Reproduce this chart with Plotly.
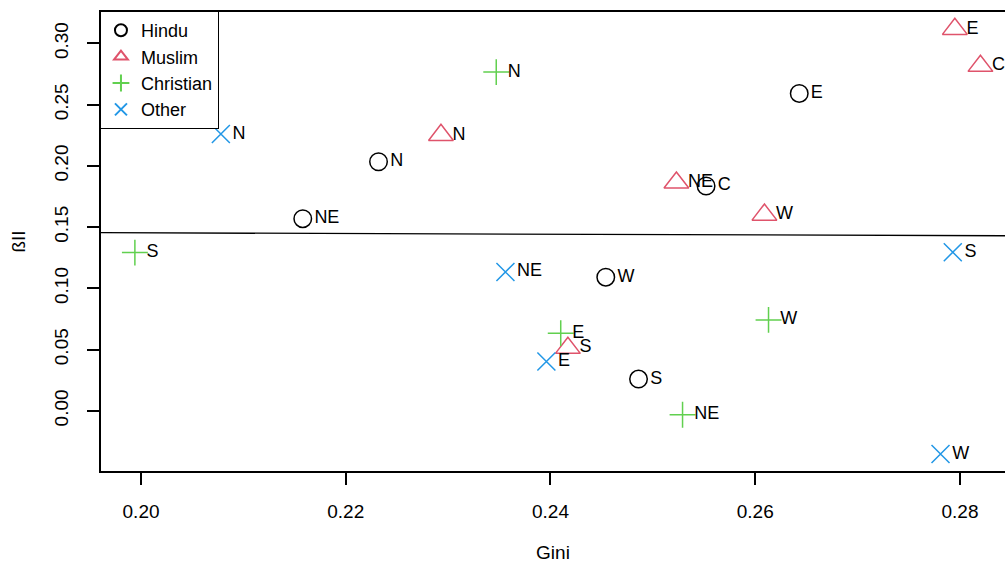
import numpy as np
import plotly.graph_objects as go

# Gini coefficient and beta-II estimates by religion and region
hindu_regions = ["N", "NE", "E", "C", "W", "S"]
hindu_gini = [0.2232, 0.2158, 0.2643, 0.2552, 0.2454, 0.2486]
hindu_beta = [0.2034, 0.1569, 0.2592, 0.1836, 0.1091, 0.0259]

muslim_regions = ["N", "NE", "E", "C", "W", "S"]
muslim_gini = [0.2293, 0.2523, 0.2795, 0.2820, 0.2609, 0.2417]
muslim_beta = [0.2252, 0.1863, 0.3118, 0.2816, 0.1601, 0.0513]

christian_regions = ["N", "NE", "E", "W", "S"]
christian_gini = [0.2347, 0.2529, 0.2410, 0.2613, 0.1994]
christian_beta = [0.2766, -0.0033, 0.0634, 0.0742, 0.1292]

other_regions = ["N", "NE", "E", "W", "S"]
other_gini = [0.2078, 0.2356, 0.2396, 0.2781, 0.2793]
other_beta = [0.2260, 0.1134, 0.0402, -0.0353, 0.1295]

x_ticks = [0.20, 0.22, 0.24, 0.26, 0.28]
y_ticks = [0.00, 0.05, 0.10, 0.15, 0.20, 0.25, 0.30]

FONT = "Liberation Sans"
groups = [
    ("Hindu", hindu_gini, hindu_beta, hindu_regions, "circle-open", 17.5, "#000000"),
    ("Muslim", muslim_gini, muslim_beta, muslim_regions, "triangle-up-open", 21.5, "#DF536B"),
    ("Christian", christian_gini, christian_beta, christian_regions, "cross-thin-open", 18.5, "#61D04F"),
    ("Other", other_gini, other_beta, other_regions, "x-thin-open", 18, "#2297E6"),
]

fig = go.Figure()
for name, gx, gy, regs, sym, size, col in groups:
    fig.add_trace(go.Scatter(
        x=gx, y=gy, mode="markers", name=name,
        marker=dict(symbol=sym, size=size, color=col, line=dict(color=col, width=1.5)),
        hoverinfo="skip",
    ))

# region labels placed to the right of each point
all_x = sum([g[1] for g in groups], [])
all_y = sum([g[2] for g in groups], [])
all_lab = sum([g[3] for g in groups], [])
fig.add_trace(go.Scatter(
    x=all_x, y=all_y, text=all_lab, mode="markers+text", textposition="middle right",
    marker=dict(size=17, color="rgba(0,0,0,0)", line=dict(width=0)),
    textfont=dict(family=FONT, size=18, color="#000000"),
    showlegend=False, hoverinfo="skip",
))

x_range = [0.19609, 0.28440]
y_span = max(all_y) - min(all_y)
y_range = [min(all_y) - 0.04 * y_span, max(all_y) + 0.04 * y_span]

# least-squares fit across all groups
slope, intercept = np.polyfit(all_x, all_y, 1)
fig.add_trace(go.Scatter(
    x=x_range, y=[intercept + slope * v for v in x_range], mode="lines",
    line=dict(color="#000000", width=1.3), showlegend=False, hoverinfo="skip",
))

fig.update_layout(
    width=1005, height=565,
    margin=dict(l=101, r=0, t=12, b=94),
    paper_bgcolor="white", plot_bgcolor="white",
    font=dict(family=FONT, size=19, color="#000000"),
    showlegend=True,
    legend=dict(
        x=-0.0017, y=1.0033, xanchor="left", yanchor="top",
        bordercolor="#000000", borderwidth=1.5, bgcolor="white",
        font=dict(family=FONT, size=18), itemsizing="constant",
    ),
    xaxis=dict(
        range=x_range, tickvals=x_ticks, ticktext=[f"{v:.2f}" for v in x_ticks],
        showgrid=False, zeroline=False, showline=True, linecolor="#000000", linewidth=1.5,
        mirror=True, ticks="outside", ticklen=12, tickwidth=1.5, tickcolor="#000000",
        ticklabelstandoff=10,
        title=dict(text="Gini", standoff=25, font=dict(size=19)),
    ),
    yaxis=dict(
        range=y_range, tickvals=y_ticks, ticktext=[f"{v:.2f}" for v in y_ticks],
        tickangle=-90,
        showgrid=False, zeroline=False, showline=True, linecolor="#000000", linewidth=1.5,
        mirror=False, ticks="outside", ticklen=12, tickwidth=1.5, tickcolor="#000000",
        ticklabelstandoff=12,
        title=dict(text="ßII", standoff=20, font=dict(size=19)),
    ),
)

fig.write_html("out.html")
